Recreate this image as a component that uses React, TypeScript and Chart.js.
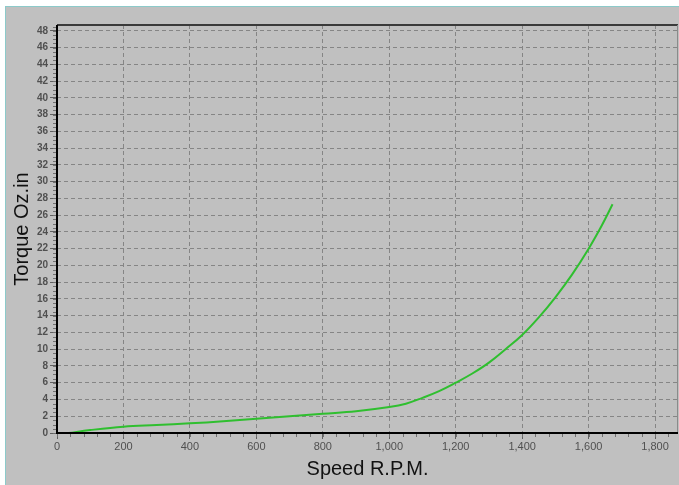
import React, { useEffect, useRef } from "react";
import { Chart, registerables } from "chart.js";

Chart.register(...registerables);

const speedRpm = [35, 100, 200, 300, 400, 500, 600, 700, 800, 900, 1000, 1050, 1100, 1150, 1200, 1250, 1300, 1350, 1400, 1450, 1500, 1550, 1600, 1640, 1672];
const torqueOzIn = [0, 0.35, 0.75, 0.95, 1.15, 1.4, 1.7, 2.0, 2.3, 2.6, 3.1, 3.5, 4.2, 5.0, 6.0, 7.1, 8.4, 10.0, 11.7, 13.8, 16.2, 18.9, 22.0, 24.8, 27.3];

const xTickValues = [0, 200, 400, 600, 800, 1000, 1200, 1400, 1600, 1800];
const yTickValues = [0, 2, 4, 6, 8, 10, 12, 14, 16, 18, 20, 22, 24, 26, 28, 30, 32, 34, 36, 38, 40, 42, 44, 46, 48];
const xMax = 1869;
const yMax = 48.7;

const framePlugin = {
  id: "frame",
  beforeDraw(chart: any) {
    const { ctx, width, height } = chart;
    ctx.save();
    ctx.fillStyle = "#ffffff";
    ctx.fillRect(0, 0, width, height);
    ctx.fillStyle = "#c0c0c0";
    ctx.fillRect(5, 6, width - 5, height - 6);
    ctx.fillStyle = "#8ccaca";
    ctx.fillRect(5, 6, width - 5, 1);
    ctx.fillRect(5, 6, 1, height - 6);
    ctx.restore();
  },
  afterDraw(chart: any) {
    const { ctx, chartArea } = chart;
    const xs = chart.scales.x;
    const ys = chart.scales.y;
    ctx.save();
    ctx.strokeStyle = "#707070";
    ctx.lineWidth = 1;
    ctx.beginPath();
    for (let v = 0; v <= xMax; v += 40) {
      const px = Math.round(xs.getPixelForValue(v)) + 0.5;
      ctx.moveTo(px, chartArea.bottom);
      ctx.lineTo(px, chartArea.bottom + 4);
    }
    for (let v = 0; v <= yMax; v += 0.5) {
      const py = Math.round(ys.getPixelForValue(v)) + 0.5;
      ctx.moveTo(chartArea.left - 4, py);
      ctx.lineTo(chartArea.left, py);
    }
    ctx.stroke();
    ctx.strokeStyle = "#3a3a3a";
    ctx.lineWidth = 2;
    ctx.beginPath();
    ctx.moveTo(chartArea.left, chartArea.top);
    ctx.lineTo(chartArea.right, chartArea.top);
    ctx.stroke();
    ctx.strokeStyle = "#8a8a8a";
    ctx.lineWidth = 1;
    ctx.beginPath();
    ctx.moveTo(chartArea.right - 0.5, chartArea.top);
    ctx.lineTo(chartArea.right - 0.5, chartArea.bottom);
    ctx.stroke();
    ctx.strokeStyle = "#000000";
    ctx.lineWidth = 2;
    ctx.beginPath();
    ctx.moveTo(chartArea.left, chartArea.top);
    ctx.lineTo(chartArea.left, chartArea.bottom);
    ctx.lineTo(chartArea.right, chartArea.bottom);
    ctx.stroke();
    ctx.restore();
  },
};

export default function App() {
  const ref = useRef<HTMLCanvasElement | null>(null);

  useEffect(() => {
    document.body.style.margin = "0";
    if (!ref.current) return;
    const points = speedRpm.map((x, i) => ({ x, y: torqueOzIn[i] }));
    const chart = new Chart(ref.current, {
      type: "line",
      data: {
        datasets: [
          {
            data: points,
            borderColor: "#2fbf2f",
            borderWidth: 2,
            pointRadius: 0,
            tension: 0.4,
            fill: false,
          },
        ],
      },
      plugins: [framePlugin],
      options: {
        animation: false,
        responsive: false,
        maintainAspectRatio: false,
        layout: { padding: { left: 0, right: 1, top: 25, bottom: 0 } },
        plugins: { legend: { display: false }, tooltip: { enabled: false } },
        scales: {
          x: {
            type: "linear",
            min: 0,
            max: xMax,
            afterFit(scale: any) {
              scale.height = 52;
            },
            afterBuildTicks(scale: any) {
              scale.ticks = xTickValues.map((value) => ({ value }));
            },
            ticks: {
              color: "#505050",
              font: { family: "Liberation Sans, Arial, sans-serif", size: 11 },
              padding: 1,
              maxRotation: 0,
              autoSkip: false,
              callback: (v: any) => Number(v).toLocaleString("en-US"),
            },
            grid: {
              color: "#858585",
              lineWidth: 1,
              tickLength: 6,
              tickColor: "#606060",
              tickBorderDash: [],
            },
            border: { display: false, dash: [4, 3] },
            title: {
              display: true,
              text: "Speed R.P.M.",
              color: "#111111",
              font: { family: "Liberation Sans, Arial, sans-serif", size: 20 },
              padding: { top: 0, bottom: 4 },
            },
          },
          y: {
            type: "linear",
            min: 0,
            max: yMax,
            afterFit(scale: any) {
              scale.width = 57;
            },
            afterBuildTicks(scale: any) {
              scale.ticks = yTickValues.map((value) => ({ value }));
            },
            ticks: {
              color: "#505050",
              font: { family: "Liberation Sans, Arial, sans-serif", size: 10, weight: "bold" },
              padding: 2,
              autoSkip: false,
            },
            grid: {
              color: "#858585",
              lineWidth: 1,
              tickLength: 7,
              tickColor: "#606060",
              tickBorderDash: [],
            },
            border: { display: false, dash: [4, 3] },
            title: {
              display: true,
              text: "Torque Oz.in",
              color: "#111111",
              font: { family: "Liberation Sans, Arial, sans-serif", size: 20 },
              padding: { top: 10, bottom: 0 },
            },
          },
        },
      },
    } as any);
    return () => chart.destroy();
  }, []);

  return (
    <div style={{ width: 679, height: 485 }}>
      <canvas ref={ref} width={679} height={485} style={{ display: "block" }} />
    </div>
  );
}
